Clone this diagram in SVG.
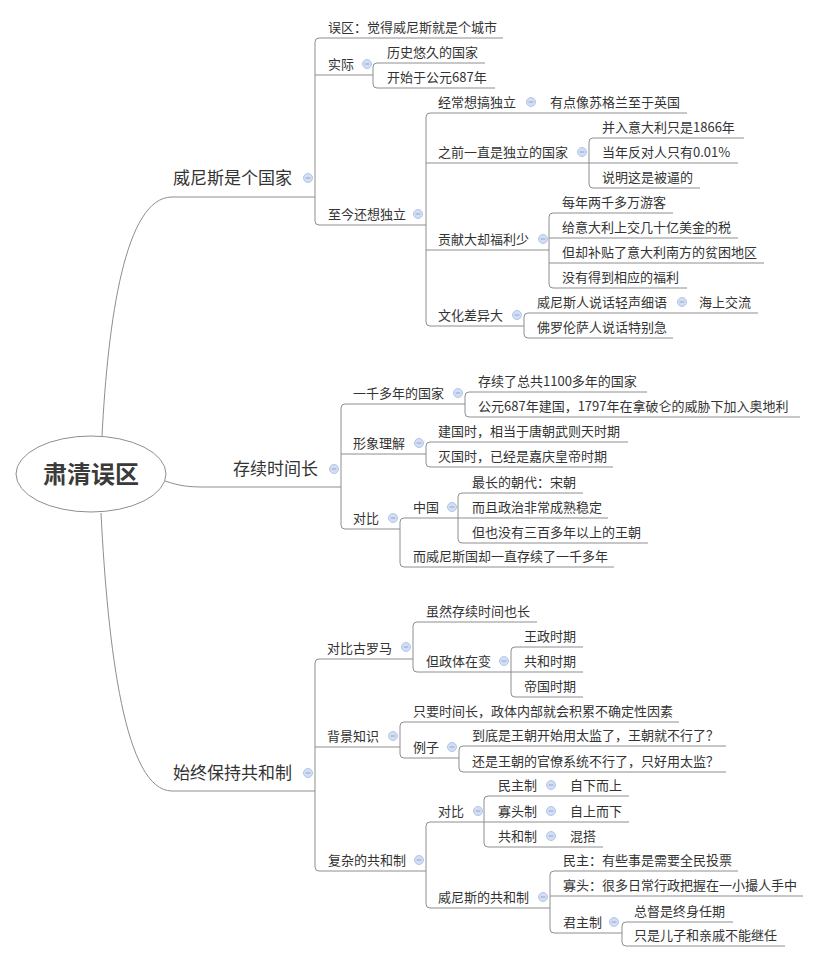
<svg xmlns="http://www.w3.org/2000/svg" xmlns:xlink="http://www.w3.org/1999/xlink" width="820" height="962" viewBox="0 0 820 962">
<style>
.t{font-family:"Noto Sans CJK SC","Liberation Sans",sans-serif;font-size:13px;fill:#333}
.t1{font-family:"Noto Sans CJK SC","Liberation Sans",sans-serif;font-size:17px;fill:#333}
.t0{font-family:"Noto Sans CJK SC","Liberation Sans",sans-serif;font-size:24px;font-weight:bold;fill:#3a3a3a}
.ln{fill:none;stroke:#8e8e8e;stroke-width:1}
</style>
<defs>
<g id="mi"><circle r="4.5" fill="#d3def3" stroke="#b3c6e8" stroke-width="1"/><line x1="-2.3" y1="0" x2="2.3" y2="0" stroke="#8ea6d6" stroke-width="1"/></g>
</defs>
<rect width="820" height="962" fill="#fff"/>
<g id="connectors" class="ln">
<path d="M102,436 C108,320 125,197 172,197 H315"/>
<path d="M503,38 H319 Q315,38 315,42 V221 Q315,225 319,225 H426 M315,75 H373"/>
<path d="M485,63 H377 Q373,63 373,67 V84 Q373,88 377,88 H495"/>
<path d="M687,113 H430 Q426,113 426,117 V322 Q426,326 430,326 H524 M426,163 H589 M426,250 H549"/>
<path d="M744,138 H593 Q589,138 589,142 V184 Q589,188 593,188 H700 M589,163 H738"/>
<path d="M673,213 H553 Q549,213 549,217 V284 Q549,288 553,288 H687 M549,238 H738 M549,263 H764"/>
<path d="M758,313 H528 Q524,313 524,317 V334 Q524,338 528,338 H673"/>
<path d="M165,481 C180,486 188,487 205,487 H341"/>
<path d="M465,404 H345 Q341,404 341,408 V525 Q341,529 345,529 H400 M341,454 H426"/>
<path d="M647,392 H469 Q465,392 465,396 V413 Q465,417 469,417 H800"/>
<path d="M628,442 H430 Q426,442 426,446 V463 Q426,467 430,467 H613"/>
<path d="M458,518 H404 Q400,518 400,522 V563 Q400,567 404,567 H614"/>
<path d="M583,493 H462 Q458,493 458,497 V539 Q458,543 462,543 H648 M458,518 H608"/>
<path d="M101,513 C108,650 125,791 172,791 H315"/>
<path d="M413,659 H319 Q315,659 315,663 V867 Q315,871 319,871 H426 M315,747 H400"/>
<path d="M537,622 H417 Q413,622 413,626 V668 Q413,672 417,672 H511"/>
<path d="M583,647 H515 Q511,647 511,651 V693 Q511,697 515,697 H583 M511,672 H583"/>
<path d="M679,722 H404 Q400,722 400,726 V754 Q400,758 404,758 H459"/>
<path d="M726,746 H463 Q459,746 459,750 V768 Q459,772 463,772 H726"/>
<path d="M484,822 H430 Q426,822 426,826 V904 Q426,908 430,908 H550"/>
<path d="M629,796 H488 Q484,796 484,800 V843 Q484,847 488,847 H603 M484,822 H629"/>
<path d="M738,871 H554 Q550,871 550,875 V929 Q550,933 554,933 H622 M550,896 H803"/>
<path d="M733,922 H626 Q622,922 622,926 V942 Q622,946 626,946 H785"/>
</g>
<g id="root"><ellipse cx="91" cy="474" rx="75" ry="38" fill="#fff" stroke="#8e8e8e" stroke-width="1"/><text class="t0" x="91" y="483" text-anchor="middle">肃清误区</text></g>

<g id="n-venice"><text class="t1" x="173" y="184">威尼斯是个国家</text><use href="#mi" x="308" y="178"/></g>
<g id="n-wuqu"><text class="t" x="328" y="32">误区：觉得威尼斯就是个城市</text></g>
<g id="n-shiji"><text class="t" x="328" y="69">实际</text><use href="#mi" x="367" y="64"/></g>
<g id="n-lishi"><text class="t" x="387" y="57">历史悠久的国家</text></g>
<g id="n-kaishi"><text class="t" x="387" y="82">开始于公元687年</text></g>
<g id="n-zhijin"><text class="t" x="328" y="219">至今还想独立</text><use href="#mi" x="418" y="214"/></g>
<g id="n-jingchang"><text class="t" x="438" y="107">经常想搞独立</text><use href="#mi" x="531" y="102"/></g>
<g id="n-sugelan"><text class="t" x="550" y="107">有点像苏格兰至于英国</text></g>
<g id="n-zhiqian"><text class="t" x="438" y="157">之前一直是独立的国家</text><use href="#mi" x="582" y="152"/></g>
<g id="n-1866"><text class="t" x="602" y="132">并入意大利只是1866年</text></g>
<g id="n-fandui"><text class="t" x="602" y="157">当年反对人只有0.01%</text></g>
<g id="n-beibi"><text class="t" x="602" y="182">说明这是被逼的</text></g>
<g id="n-gongxian"><text class="t" x="438" y="244">贡献大却福利少</text><use href="#mi" x="543" y="239"/></g>
<g id="n-youke"><text class="t" x="562" y="207">每年两千多万游客</text></g>
<g id="n-shui"><text class="t" x="562" y="232">给意大利上交几十亿美金的税</text></g>
<g id="n-butie"><text class="t" x="562" y="257">但却补贴了意大利南方的贫困地区</text></g>
<g id="n-fuli"><text class="t" x="562" y="282">没有得到相应的福利</text></g>
<g id="n-wenhua"><text class="t" x="438" y="320">文化差异大</text><use href="#mi" x="517" y="315"/></g>
<g id="n-qingsheng"><text class="t" x="537" y="307">威尼斯人说话轻声细语</text><use href="#mi" x="682" y="302"/></g>
<g id="n-haishang"><text class="t" x="699" y="307">海上交流</text></g>
<g id="n-foluolunsa"><text class="t" x="537" y="332">佛罗伦萨人说话特别急</text></g>

<g id="n-cunxu"><text class="t1" x="233" y="475">存续时间长</text><use href="#mi" x="334" y="469"/></g>
<g id="n-yiqian"><text class="t" x="353" y="398">一千多年的国家</text><use href="#mi" x="458" y="393"/></g>
<g id="n-1100"><text class="t" x="478" y="386">存续了总共1100多年的国家</text></g>
<g id="n-687"><text class="t" x="478" y="411">公元687年建国，1797年在拿破仑的威胁下加入奥地利</text></g>
<g id="n-xingxiang"><text class="t" x="353" y="448">形象理解</text><use href="#mi" x="419" y="443"/></g>
<g id="n-jianguo"><text class="t" x="438" y="436">建国时，相当于唐朝武则天时期</text></g>
<g id="n-mieguo"><text class="t" x="438" y="461">灭国时，已经是嘉庆皇帝时期</text></g>
<g id="n-duibi1"><text class="t" x="353" y="523">对比</text><use href="#mi" x="393" y="518"/></g>
<g id="n-zhongguo"><text class="t" x="413" y="512">中国</text><use href="#mi" x="452" y="507"/></g>
<g id="n-songchao"><text class="t" x="472" y="487">最长的朝代：宋朝</text></g>
<g id="n-chengshu"><text class="t" x="472" y="512">而且政治非常成熟稳定</text></g>
<g id="n-sanbai"><text class="t" x="472" y="537">但也没有三百多年以上的王朝</text></g>
<g id="n-yizhi"><text class="t" x="413" y="561">而威尼斯国却一直存续了一千多年</text></g>

<g id="n-gonghe"><text class="t1" x="173" y="779">始终保持共和制</text><use href="#mi" x="308" y="773"/></g>
<g id="n-guluoma"><text class="t" x="327" y="653">对比古罗马</text><use href="#mi" x="406" y="647"/></g>
<g id="n-suiran"><text class="t" x="426" y="616">虽然存续时间也长</text></g>
<g id="n-zhengti"><text class="t" x="426" y="666">但政体在变</text><use href="#mi" x="504" y="661"/></g>
<g id="n-wangzheng"><text class="t" x="524" y="641">王政时期</text></g>
<g id="n-gongheshiqi"><text class="t" x="524" y="666">共和时期</text></g>
<g id="n-diguo"><text class="t" x="524" y="691">帝国时期</text></g>
<g id="n-beijing"><text class="t" x="327" y="741">背景知识</text><use href="#mi" x="393" y="736"/></g>
<g id="n-zhiyao"><text class="t" x="413" y="716">只要时间长，政体内部就会积累不确定性因素</text></g>
<g id="n-lizi"><text class="t" x="413" y="752">例子</text><use href="#mi" x="452" y="747"/></g>
<g id="n-taijian1"><text class="t" x="472" y="740">到底是王朝开始用太监了，王朝就不行了？</text></g>
<g id="n-taijian2"><text class="t" x="472" y="766">还是王朝的官僚系统不行了，只好用太监？</text></g>
<g id="n-fuza"><text class="t" x="328" y="865">复杂的共和制</text><use href="#mi" x="419" y="860"/></g>
<g id="n-duibi2"><text class="t" x="438" y="816">对比</text><use href="#mi" x="478" y="811"/></g>
<g id="n-minzhuzhi"><text class="t" x="498" y="790">民主制</text><use href="#mi" x="551" y="785"/></g>
<g id="n-zixia"><text class="t" x="570" y="790">自下而上</text></g>
<g id="n-guatouzhi"><text class="t" x="498" y="816">寡头制</text><use href="#mi" x="551" y="811"/></g>
<g id="n-zishang"><text class="t" x="570" y="816">自上而下</text></g>
<g id="n-gonghezhi"><text class="t" x="498" y="841">共和制</text><use href="#mi" x="551" y="836"/></g>
<g id="n-hunda"><text class="t" x="570" y="841">混搭</text></g>
<g id="n-weinisi-gh"><text class="t" x="438" y="902">威尼斯的共和制</text><use href="#mi" x="543" y="897"/></g>
<g id="n-minzhu"><text class="t" x="563" y="865">民主：有些事是需要全民投票</text></g>
<g id="n-guatou"><text class="t" x="563" y="890">寡头：很多日常行政把握在一小撮人手中</text></g>
<g id="n-junzhu"><text class="t" x="563" y="927">君主制</text><use href="#mi" x="614" y="922"/></g>
<g id="n-zongdu"><text class="t" x="634" y="916">总督是终身任期</text></g>
<g id="n-jicheng"><text class="t" x="634" y="940">只是儿子和亲戚不能继任</text></g>
</svg>
